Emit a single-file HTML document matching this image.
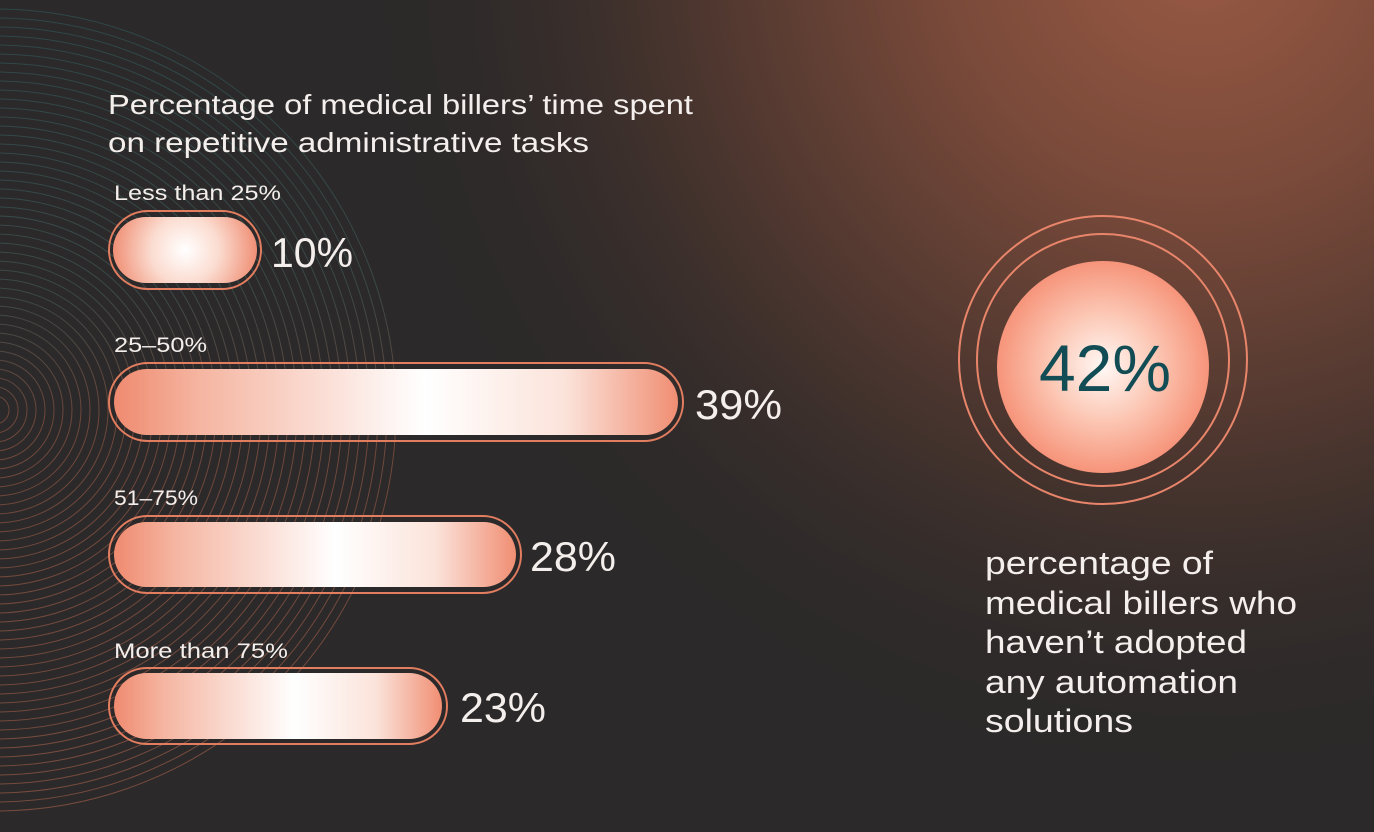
<!DOCTYPE html>
<html><head><meta charset="utf-8"><style>
html,body{margin:0;padding:0;background:#2b2929;}
svg{display:block;}
text{font-family:"Liberation Sans",sans-serif;fill:#f4efec;}
</style></head><body>
<svg width="1374" height="832" viewBox="0 0 1374 832" xmlns="http://www.w3.org/2000/svg">
<defs>
<radialGradient id="bg1" cx="1200" cy="-60" r="850" gradientUnits="userSpaceOnUse">
<stop offset="0" stop-color="#9a5a44"/><stop offset="0.3" stop-color="#7a4a3a"/><stop offset="0.65" stop-color="#45332d"/><stop offset="1" stop-color="#2b2929" stop-opacity="0"/>
</radialGradient>
<linearGradient id="ring" x1="0" y1="0" x2="0" y2="832" gradientUnits="userSpaceOnUse">
<stop offset="0" stop-color="#2f6566"/><stop offset="0.35" stop-color="#4a6a68"/><stop offset="0.5" stop-color="#b0664f"/><stop offset="1" stop-color="#c46f55"/>
</linearGradient>
<linearGradient id="bar" x1="0" y1="0" x2="1" y2="0">
<stop offset="0" stop-color="#ef8a6f"/><stop offset="0.15" stop-color="#f5b5a1"/><stop offset="0.55" stop-color="#ffffff"/><stop offset="0.8" stop-color="#fbe3da"/><stop offset="1" stop-color="#f08e73"/>
</linearGradient>
<radialGradient id="bar1" cx="72" cy="33" r="75" gradientUnits="userSpaceOnUse">
<stop offset="0" stop-color="#ffffff"/><stop offset="0.45" stop-color="#fbdcd0"/><stop offset="1" stop-color="#ef8a6f"/>
</radialGradient>
<radialGradient id="circ" cx="0.5" cy="0.5" r="0.5">
<stop offset="0" stop-color="#fff8f5"/><stop offset="0.5" stop-color="#fcc8b5"/><stop offset="1" stop-color="#f6947a"/>
</radialGradient>
</defs>
<rect width="1374" height="832" fill="#2b2929"/>
<rect width="1374" height="832" fill="url(#bg1)"/>
<g fill="none" stroke="url(#ring)" stroke-width="1" opacity="0.5">
<circle cx="-5" cy="410" r="14"/><circle cx="-5" cy="410" r="23"/><circle cx="-5" cy="410" r="32"/><circle cx="-5" cy="410" r="41"/><circle cx="-5" cy="410" r="50"/><circle cx="-5" cy="410" r="59"/><circle cx="-5" cy="410" r="68"/><circle cx="-5" cy="410" r="77"/><circle cx="-5" cy="410" r="86"/><circle cx="-5" cy="410" r="95"/><circle cx="-5" cy="410" r="104"/><circle cx="-5" cy="410" r="113"/><circle cx="-5" cy="410" r="122"/><circle cx="-5" cy="410" r="131"/><circle cx="-5" cy="410" r="140"/><circle cx="-5" cy="410" r="149"/><circle cx="-5" cy="410" r="158"/><circle cx="-5" cy="410" r="167"/><circle cx="-5" cy="410" r="176"/><circle cx="-5" cy="410" r="185"/><circle cx="-5" cy="410" r="194"/><circle cx="-5" cy="410" r="203"/><circle cx="-5" cy="410" r="212"/><circle cx="-5" cy="410" r="221"/><circle cx="-5" cy="410" r="230"/><circle cx="-5" cy="410" r="239"/><circle cx="-5" cy="410" r="248"/><circle cx="-5" cy="410" r="257"/><circle cx="-5" cy="410" r="266"/><circle cx="-5" cy="410" r="275"/><circle cx="-5" cy="410" r="284"/><circle cx="-5" cy="410" r="293"/><circle cx="-5" cy="410" r="302"/><circle cx="-5" cy="410" r="311"/><circle cx="-5" cy="410" r="320"/><circle cx="-5" cy="410" r="329"/><circle cx="-5" cy="410" r="338"/><circle cx="-5" cy="410" r="347"/><circle cx="-5" cy="410" r="356"/><circle cx="-5" cy="410" r="365"/><circle cx="-5" cy="410" r="374"/><circle cx="-5" cy="410" r="383"/><circle cx="-5" cy="410" r="392"/><circle cx="-5" cy="410" r="401"/>
</g>
<text x="108" y="114" font-size="28" textLength="585" lengthAdjust="spacingAndGlyphs">Percentage of medical billers’ time spent</text>
<text x="108" y="152" font-size="28" textLength="481" lengthAdjust="spacingAndGlyphs">on repetitive administrative tasks</text>

<g fill="none" stroke="#e27d60" stroke-width="2">
<rect x="109" y="211" width="152" height="78" rx="39"/>
<rect x="109" y="363" width="574" height="78" rx="39"/>
<rect x="109" y="516" width="412" height="77" rx="38.5"/>
<rect x="109" y="668" width="338" height="76" rx="38"/>
</g>
<g transform="translate(113,217)"><rect x="0" y="0" width="144" height="66" rx="33" fill="url(#bar1)"/></g>
<rect x="114" y="369" width="564" height="66" rx="33" fill="url(#bar)"/>
<rect x="114" y="522" width="402" height="65" rx="32.5" fill="url(#bar)"/>
<rect x="114" y="673" width="328" height="66" rx="33" fill="url(#bar)"/>

<text x="114" y="200" font-size="21" textLength="167" lengthAdjust="spacingAndGlyphs">Less than 25%</text>
<text x="114" y="352" font-size="21" textLength="93" lengthAdjust="spacingAndGlyphs">25–50%</text>
<text x="114" y="505" font-size="21" textLength="84" lengthAdjust="spacingAndGlyphs">51–75%</text>
<text x="114" y="658" font-size="21" textLength="174" lengthAdjust="spacingAndGlyphs">More than 75%</text>

<text x="271" y="267" font-size="42" textLength="82" lengthAdjust="spacingAndGlyphs">10%</text>
<text x="695" y="419" font-size="42" textLength="87" lengthAdjust="spacingAndGlyphs">39%</text>
<text x="530" y="571" font-size="42" textLength="86" lengthAdjust="spacingAndGlyphs">28%</text>
<text x="460" y="722" font-size="42" textLength="86" lengthAdjust="spacingAndGlyphs">23%</text>

<circle cx="1103" cy="360" r="144" fill="none" stroke="#e8856a" stroke-width="2"/>
<circle cx="1103" cy="360" r="126" fill="none" stroke="#e8856a" stroke-width="2"/>
<circle cx="1103" cy="367" r="106" fill="url(#circ)"/>
<text x="1105" y="391" font-size="66" text-anchor="middle" style="fill:#124d55">42%</text>

<g font-size="32">
<text x="985" y="574" textLength="228" lengthAdjust="spacingAndGlyphs">percentage of</text>
<text x="985" y="614" textLength="312" lengthAdjust="spacingAndGlyphs">medical billers who</text>
<text x="985" y="653" textLength="262" lengthAdjust="spacingAndGlyphs">haven’t adopted</text>
<text x="985" y="693" textLength="253" lengthAdjust="spacingAndGlyphs">any automation</text>
<text x="985" y="732" textLength="148" lengthAdjust="spacingAndGlyphs">solutions</text>
</g>
</svg>
</body></html>
